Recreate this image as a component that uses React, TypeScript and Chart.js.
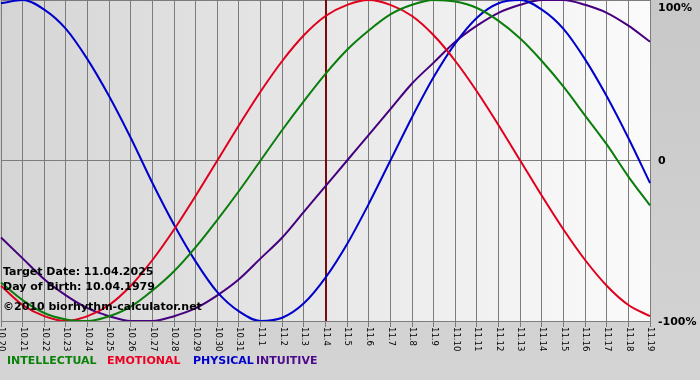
import React, { useEffect, useRef } from "react";
import { Chart, registerables } from "chart.js";

Chart.register(...registerables);

const dayLabels = [
  "10.20", "10.21", "10.22", "10.23", "10.24", "10.25", "10.26", "10.27", "10.28", "10.29", "10.30", "10.31",
  "11.1", "11.2", "11.3", "11.4", "11.5", "11.6", "11.7", "11.8", "11.9", "11.10", "11.11", "11.12",
  "11.13", "11.14", "11.15", "11.16", "11.17", "11.18", "11.19",
];

const intellectual = [-76, -87, -95, -99, -100, -97, -91, -81, -69, -54, -37, -19, 0, 19, 37, 54, 69, 81, 91, 97, 100, 99, 95, 87, 76, 62, 46, 28, 10, -10, -28];
const emotional = [-78, -90, -97, -100, -97, -90, -78, -62, -43, -22, 0, 22, 43, 62, 78, 90, 97, 100, 97, 90, 78, 62, 43, 22, 0, -22, -43, -62, -78, -90, -97];
const physical = [98, 100, 94, 82, 63, 40, 14, -14, -40, -63, -82, -94, -100, -98, -89, -73, -52, -27, 0, 27, 52, 73, 89, 98, 100, 94, 82, 63, 40, 14, -14];
const intuitive = [-48, -61, -74, -84, -92, -97, -100, -100, -97, -92, -84, -74, -61, -48, -32, -16, 0, 16, 32, 48, 61, 74, 84, 92, 97, 100, 100, 97, 92, 84, 74];

const yTickValues = [100, 0, -100];
const yTickLabels = ["100%", "0", "-100%"];
const infoLines = ["Target Date: 11.04.2025", "Day of Birth: 10.04.1979", "©2010 biorhythm-calculator.net"];
const targetLabel = "11.4";
const legendNames = ["INTELLECTUAL", "EMOTIONAL", "PHYSICAL", "INTUITIVE"];
const legendColors = ["#0a820a", "#ee0022", "#0000cc", "#4b0a8c"];
const lineColors = ["#0a7d0a", "#e0001c", "#0000cc", "#46007f"];

const FONT = "'DejaVu Sans', Verdana, sans-serif";

const decorPlugin = {
  id: "decor",
  beforeDraw(chart: any) {
    const { ctx, chartArea: a, width, height } = chart;
    ctx.save();
    const og = ctx.createLinearGradient(0, 0, 0, height);
    og.addColorStop(0, "#c8c8c8");
    og.addColorStop(1, "#d4d4d4");
    ctx.fillStyle = og;
    ctx.fillRect(0, 0, width, height);
    const g = ctx.createLinearGradient(a.left, 0, a.right, 0);
    g.addColorStop(0, "#d5d5d5");
    g.addColorStop(1, "#fbfbfb");
    ctx.fillStyle = g;
    ctx.fillRect(a.left, a.top, a.right - a.left, a.bottom - a.top);
    ctx.restore();
  },
  beforeDatasetsDraw(chart: any) {
    const { ctx, chartArea: a, scales } = chart;
    const idx = dayLabels.indexOf(targetLabel);
    const x = Math.round(scales.x.getPixelForValue(idx));
    ctx.save();
    ctx.strokeStyle = "#7a0a0a";
    ctx.lineWidth = 2;
    ctx.beginPath();
    ctx.moveTo(x, a.top);
    ctx.lineTo(x, a.bottom);
    ctx.stroke();
    ctx.restore();
  },
  afterDraw(chart: any) {
    const { ctx, chartArea: a, scales } = chart;
    ctx.save();
    // x tick labels, rotated clockwise
    ctx.fillStyle = "#000";
    ctx.font = `8.5px ${FONT}`;
    ctx.textAlign = "left";
    ctx.textBaseline = "middle";
    dayLabels.forEach((lab, i) => {
      const x = scales.x.getPixelForValue(i);
      ctx.save();
      ctx.translate(x + 0.5, a.bottom + 6);
      ctx.rotate(Math.PI / 2);
      ctx.fillText(lab, 0, 0);
      ctx.restore();
    });
    // right y labels
    ctx.font = `bold 11px ${FONT}`;
    yTickValues.forEach((v, i) => {
      let y = scales.y.getPixelForValue(v);
      if (i === 0) y += 7;
      ctx.fillText(yTickLabels[i], a.right + 8, y + 1);
    });
    // info text
    ctx.font = `bold 11px ${FONT}`;
    const infoY = [272, 287, 307];
    infoLines.forEach((t, i) => ctx.fillText(t, 3, infoY[i]));
    // legend
    const lx = [7, 107, 193, 256];
    legendNames.forEach((n, i) => {
      ctx.fillStyle = legendColors[i];
      ctx.fillText(n, lx[i], 361);
    });
    ctx.restore();
  },
};

export default function App() {
  const ref = useRef<HTMLCanvasElement | null>(null);
  useEffect(() => {
    if (!ref.current) return;
    const mk = (label: string, data: number[], color: string) => ({
      label,
      data,
      borderColor: color,
      backgroundColor: color,
      borderWidth: 2,
      pointRadius: 0,
      cubicInterpolationMode: "monotone",
      fill: false,
    });
    const chart = new Chart(ref.current, {
      type: "line",
      data: {
        labels: dayLabels,
        datasets: [
          mk(legendNames[0], intellectual, lineColors[0]),
          mk(legendNames[1], emotional, lineColors[1]),
          mk(legendNames[2], physical, lineColors[2]),
          mk(legendNames[3], intuitive, lineColors[3]),
        ],
      },
      options: {
        animation: false,
        responsive: false,
        devicePixelRatio: 1,
        layout: { padding: { left: 1, right: 50, top: 0, bottom: 53 } },
        plugins: { legend: { display: false }, tooltip: { enabled: false } },
        scales: {
          x: {
            offset: false,
            ticks: { display: false },
            grid: { color: "#7c7c7c", lineWidth: 1, drawTicks: true, tickLength: 6, tickColor: "#7c7c7c" },
            border: { display: true, color: "#7c7c7c" },
            afterFit: (s: any) => { s.height = 6; },
          },
          y: {
            position: "right",
            min: -100,
            max: 100,
            ticks: { display: false, stepSize: 100 },
            grid: { color: "#7c7c7c", lineWidth: 1, drawTicks: false },
            border: { display: true, color: "#7c7c7c" },
            afterFit: (s: any) => { s.width = 0; },
          },
        },
      },
      plugins: [decorPlugin],
    } as any);
    return () => chart.destroy();
  }, []);
  return (
    <div style={{ position: "fixed", left: 0, top: 0, width: 700, height: 380 }}>
      <canvas ref={ref} width={700} height={380} style={{ width: 700, height: 380, display: "block" }} />
    </div>
  );
}
